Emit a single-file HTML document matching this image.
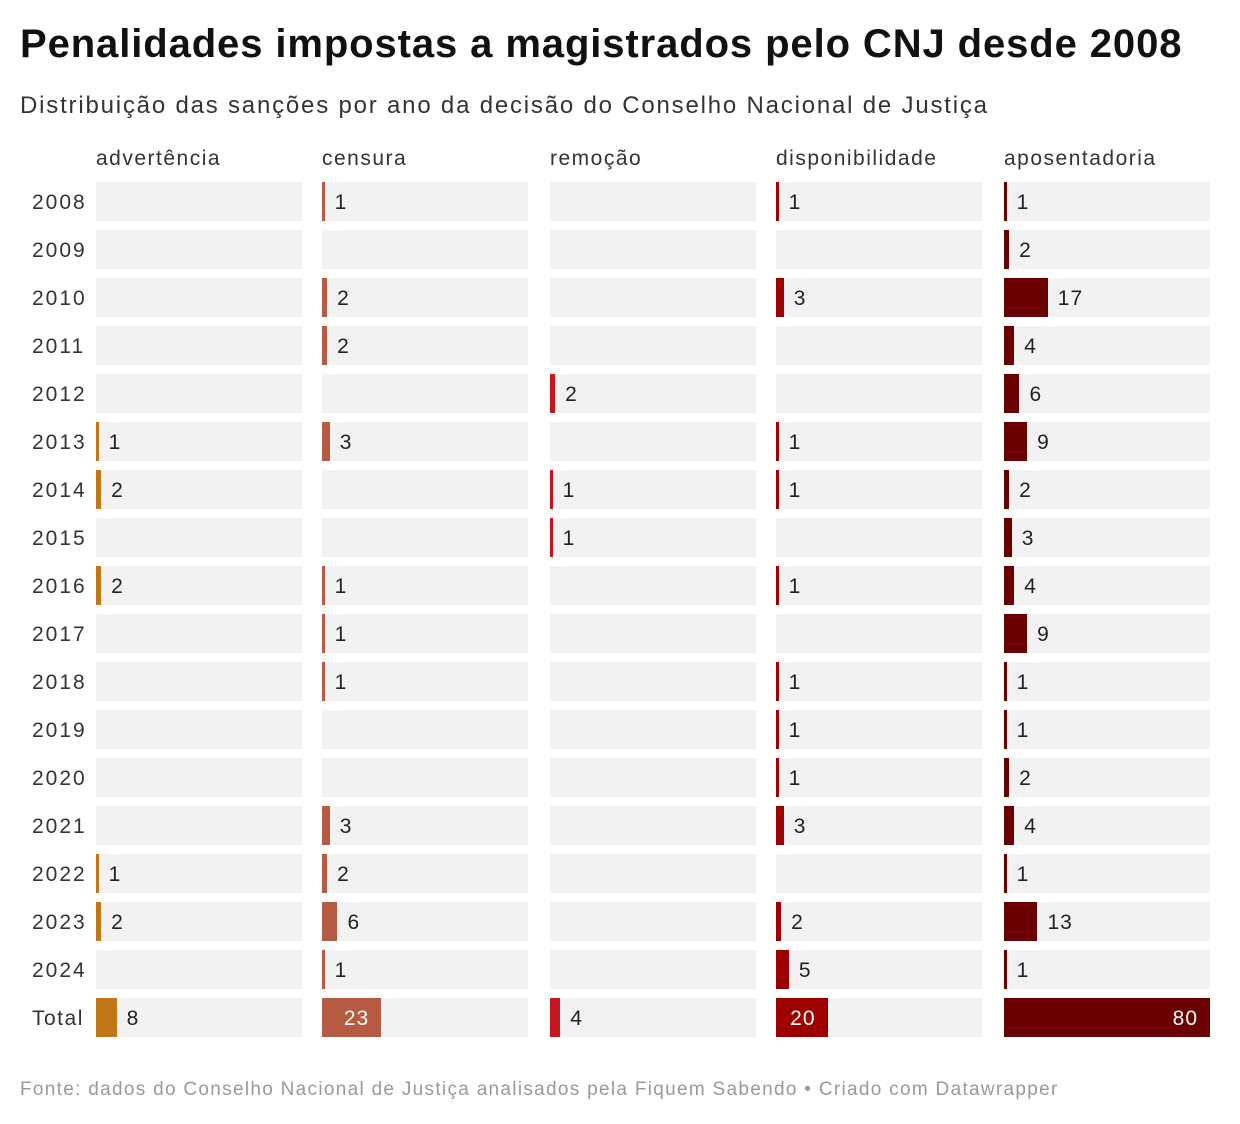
<!DOCTYPE html>
<html><head><meta charset="utf-8"><style>
body{margin:0;width:1240px;height:1124px;background:#fff;font-family:"Liberation Sans",sans-serif;color:#222;position:relative;overflow:hidden}
.a{position:absolute;white-space:nowrap}
</style></head><body>
<div class="a" style="left:20px;top:22px;font-size:40px;font-weight:bold;color:#111;letter-spacing:0.9px">Penalidades impostas a magistrados pelo CNJ desde 2008</div>
<div class="a" style="left:20px;top:92px;font-size:24px;color:#333;letter-spacing:1.8px">Distribuição das sanções por ano da decisão do Conselho Nacional de Justiça</div>
<div id="chart"></div>
<div class="a" style="left:20px;top:1079px;font-size:19px;color:#999;letter-spacing:1.3px">Fonte: dados do Conselho Nacional de Justiça analisados pela Fiquem Sabendo • Criado com Datawrapper</div>
<script>
const rows=["2008","2009","2010","2011","2012","2013","2014","2015","2016","2017","2018","2019","2020","2021","2022","2023","2024","Total"];
const categories=["advertência","censura","remoção","disponibilidade","aposentadoria"];
const advertencia=[0,0,0,0,0,1,2,0,2,0,0,0,0,0,1,2,0,8];
const censura=[1,0,2,2,0,3,0,0,1,1,1,0,0,3,2,6,1,23];
const remocao=[0,0,0,0,2,0,1,1,0,0,0,0,0,0,0,0,0,4];
const disponibilidade=[1,0,3,0,0,1,1,0,1,0,1,1,1,3,0,2,5,20];
const aposentadoria=[1,2,17,4,6,9,2,3,4,9,1,1,2,4,1,13,1,80];
const series=[advertencia,censura,remocao,disponibilidade,aposentadoria];
const colors=["#c07616","#b65a42","#c8161e","#9e0000","#6b0000"];
const maxV=80,colX=[96,322,550,776,1004],colW=206,rowY0=182,rowStep=48,rowH=39;
const xs=v=>v/maxV*colW;
const c=document.getElementById('chart');
function div(css,txt){const d=document.createElement('div');d.className='a';d.style.cssText=css;if(txt!==undefined)d.textContent=txt;c.appendChild(d);return d;}
categories.forEach((cat,j)=>{
  const h=div(`left:${colX[j]}px;top:147px;font-size:21px;color:#333;letter-spacing:1.5px`,cat);
  
  
});
rows.forEach((r,i)=>{
  const y=rowY0+i*rowStep;
  const l=div(`left:32px;top:${y+9}px;font-size:21px;color:#333;letter-spacing:${r==='Total'?1.5:2}px`,r);
  
  
  series.forEach((s,j)=>{
    const bg=div(`left:${colX[j]}px;top:${y}px;width:${colW}px;height:${rowH}px;background:#f2f2f2`);
    
    
    const v=s[i];if(!v)return;
    const w=xs(v);
    const b=div(`left:${colX[j]}px;top:${y}px;width:${w}px;height:${rowH}px;background:${colors[j]}`);
    
    
    let t;
    if(w>45){t=div(`left:${colX[j]}px;width:${w-12}px;text-align:right;top:${y+9}px;font-size:21px;color:#fff;letter-spacing:1px`,String(v));}
    else{t=div(`left:${colX[j]+w+10}px;top:${y+9}px;font-size:21px;color:#222;letter-spacing:1px`,String(v));}
    
    
  });
});
</script>
</body></html>
